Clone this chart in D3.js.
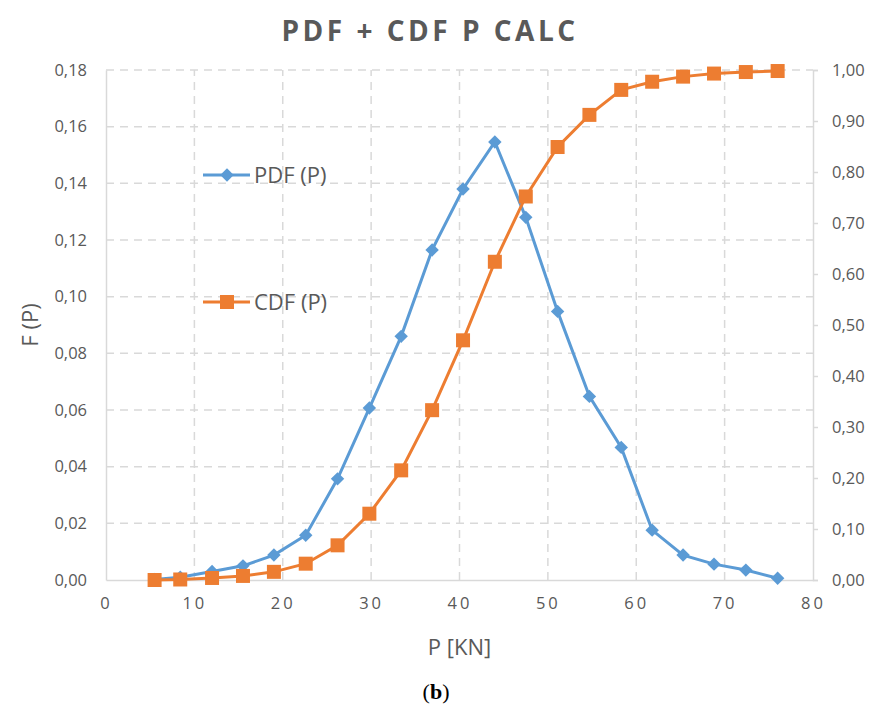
<!DOCTYPE html>
<html>
<head>
<meta charset="utf-8">
<script src="https://cdn.jsdelivr.net/npm/d3@7"></script>
<style>
  body { margin: 0; background: #fff; }
  text { font-family: "Open Sans", "Noto Sans", sans-serif; fill: #595959; }
</style>
</head>
<body>
<div id="vis"></div>
<script>
// data
var pValues = [5.5, 8.4, 12.0, 15.5, 19.0, 22.6, 26.2, 29.8, 33.4, 36.9, 40.4,
               44.0, 47.5, 51.1, 54.7, 58.3, 61.8, 65.3, 68.8, 72.4, 76.0];
var pdfValues = [0.0002, 0.001, 0.003, 0.005, 0.0088, 0.0158, 0.0357, 0.0607, 0.086, 0.1165, 0.138,
                 0.1546, 0.128, 0.0948, 0.0648, 0.0468, 0.0176, 0.0088, 0.0056, 0.0035, 0.0006];
var cdfValues = [0.0, 0.001, 0.004, 0.008, 0.016, 0.032, 0.068, 0.13, 0.215, 0.333, 0.47,
                 0.624, 0.752, 0.849, 0.912, 0.961, 0.977, 0.987, 0.993, 0.996, 0.998];
var xTicks = [0, 10, 20, 30, 40, 50, 60, 70, 80];
var leftTicks = [0, 0.02, 0.04, 0.06, 0.08, 0.10, 0.12, 0.14, 0.16, 0.18];
var rightTicks = [0, 0.1, 0.2, 0.3, 0.4, 0.5, 0.6, 0.7, 0.8, 0.9, 1.0];

var width = 872, height = 718;
var margin = { left: 106, right: 59, top: 70, bottom: 138 };
var blue = '#5b9bd5', orange = '#ed7d31', grid = '#d9d9d9';

var svg = d3.select('#vis').append('svg')
  .attr('width', width)
  .attr('height', height);

var x = d3.scaleLinear().domain([0, 80]).range([margin.left, width - margin.right]);
var yL = d3.scaleLinear().domain([0, 0.18]).range([height - margin.bottom, margin.top]);
var yR = d3.scaleLinear().domain([0, 1]).range([height - margin.bottom, margin.top]);

var comma = function (d) { return d3.format('.2f')(d).replace('.', ','); };

// gridlines
svg.append('g').selectAll('line')
  .data(leftTicks.slice(1))
  .enter().append('line')
  .attr('x1', x(0)).attr('x2', x(80))
  .attr('y1', d => yL(d)).attr('y2', d => yL(d))
  .attr('stroke', grid).attr('stroke-width', 1.5)
  .attr('stroke-dasharray', '8,6');

svg.append('g').selectAll('line')
  .data(xTicks.slice(1, -1))
  .enter().append('line')
  .attr('x1', d => x(d)).attr('x2', d => x(d))
  .attr('y1', yL(0)).attr('y2', yL(0.18))
  .attr('stroke', grid).attr('stroke-width', 1.5)
  .attr('stroke-dasharray', '8,6');

// axes
var xAxis = svg.append('g')
  .attr('transform', 'translate(0,' + yL(0) + ')')
  .call(d3.axisBottom(x).tickValues(xTicks).tickSize(0).tickPadding(17));
var leftAxis = svg.append('g')
  .attr('transform', 'translate(' + x(0) + ',0)')
  .call(d3.axisLeft(yL).tickValues(leftTicks).tickFormat(comma).tickSize(0).tickPadding(19));
var rightAxis = svg.append('g')
  .attr('transform', 'translate(' + x(80) + ',0)')
  .call(d3.axisRight(yR).tickValues(rightTicks).tickFormat(comma).tickSize(5).tickPadding(14));

[xAxis, leftAxis, rightAxis].forEach(function (a) {
  a.select('.domain').attr('stroke', grid).attr('stroke-width', 1.5);
  a.selectAll('.tick line').attr('stroke', grid).attr('stroke-width', 1.5);
  a.selectAll('text').style('font-size', '16.5px').attr('fill', '#595959');
});
xAxis.selectAll('text').style('letter-spacing', '3px');

// lines
var pdfData = pValues.map((p, i) => ({ x: p, y: pdfValues[i] }));
var cdfData = pValues.map((p, i) => ({ x: p, y: cdfValues[i] }));

svg.append('path')
  .datum(pdfData)
  .attr('fill', 'none').attr('stroke', blue).attr('stroke-width', 3)
  .attr('d', d3.line().x(d => x(d.x)).y(d => yL(d.y)));

svg.selectAll('.pdf')
  .data(pdfData)
  .enter().append('path')
  .attr('class', 'pdf')
  .attr('transform', d => 'translate(' + x(d.x) + ',' + yL(d.y) + ') rotate(45)')
  .attr('d', d3.symbol(d3.symbolSquare, 90))
  .attr('fill', blue);

svg.append('path')
  .datum(cdfData)
  .attr('fill', 'none').attr('stroke', orange).attr('stroke-width', 3)
  .attr('d', d3.line().x(d => x(d.x)).y(d => yR(d.y)));

svg.selectAll('.cdf')
  .data(cdfData)
  .enter().append('rect')
  .attr('class', 'cdf')
  .attr('x', d => x(d.x) - 7).attr('y', d => yR(d.y) - 7)
  .attr('width', 14).attr('height', 14)
  .attr('fill', orange);

// legend
var legend = [
  { name: 'PDF (P)', color: blue, y: 175, shape: 'diamond' },
  { name: 'CDF (P)', color: orange, y: 302, shape: 'square' }
];
var lg = svg.selectAll('.legend')
  .data(legend)
  .enter().append('g')
  .attr('class', 'legend')
  .attr('transform', d => 'translate(203,' + d.y + ')');
lg.append('line')
  .attr('x1', 0).attr('x2', 47)
  .attr('stroke', d => d.color).attr('stroke-width', 3);
lg.append('path')
  .attr('transform', d => 'translate(24,0)' + (d.shape === 'diamond' ? ' rotate(45)' : ''))
  .attr('d', d => d3.symbol(d3.symbolSquare, d.shape === 'diamond' ? 90 : 196)())
  .attr('fill', d => d.color);
lg.append('text')
  .attr('x', 51).attr('dy', '0.35em')
  .style('font-size', '22px')
  .text(d => d.name);

// titles
svg.append('text')
  .attr('x', 430).attr('y', 41)
  .attr('text-anchor', 'middle')
  .style('font-size', '28px').style('font-weight', 'bold').style('letter-spacing', '3.5px')
  .text('PDF + CDF P CALC');

svg.append('text')
  .attr('x', (x(0) + x(80)) / 2).attr('y', 655)
  .attr('text-anchor', 'middle')
  .style('font-size', '22px')
  .text('P [KN]');

svg.append('text')
  .attr('transform', 'translate(38,' + yL(0.09) + ') rotate(-90)')
  .attr('text-anchor', 'middle')
  .style('font-size', '22px')
  .text('F (P)');

var cap = svg.append('text')
  .attr('x', 436).attr('y', 699)
  .attr('text-anchor', 'middle')
  .style('font-family', '"Liberation Serif", serif')
  .style('font-size', '22px')
  .attr('fill', '#000');
cap.append('tspan').text('(').style('fill', '#000');
cap.append('tspan').text('b').style('font-weight', 'bold').style('fill', '#000');
cap.append('tspan').text(')').style('fill', '#000');
</script>
</body>
</html>
